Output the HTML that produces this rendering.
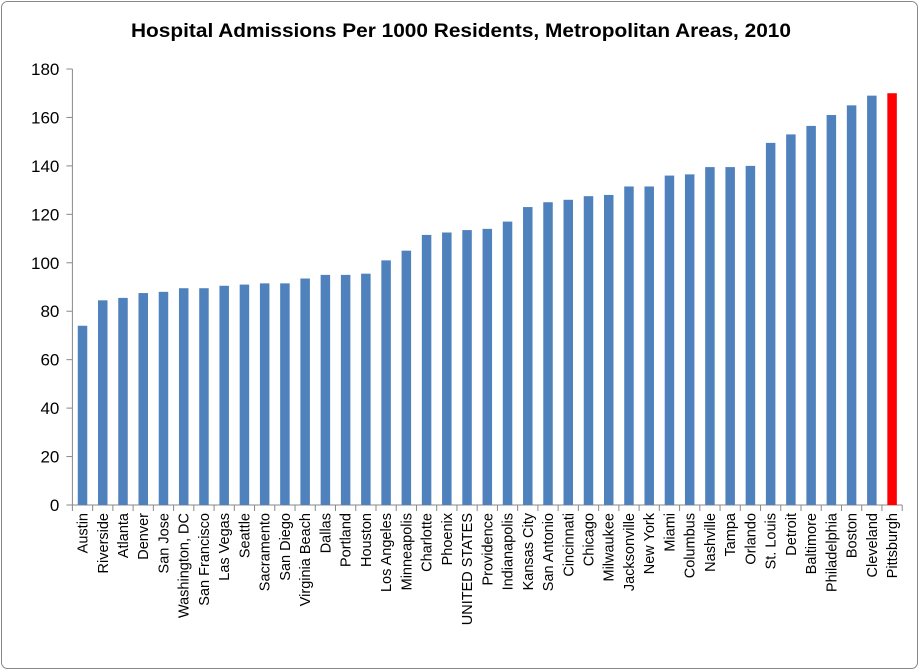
<!DOCTYPE html>
<html><head><meta charset="utf-8"><style>
html,body{margin:0;padding:0;background:#fff;}
svg{display:block;font-family:"Liberation Sans",Arial,sans-serif;}
</style></head><body>
<svg id="chart" width="920" height="671">
<rect x="1.5" y="1.5" width="916" height="667" rx="6" fill="#fff" stroke="#888"/>
<text x="131" y="37" textLength="660" lengthAdjust="spacingAndGlyphs" font-size="19" font-weight="bold">Hospital Admissions Per 1000 Residents, Metropolitan Areas, 2010</text>
<g id="axes"></g><g id="bars"></g><g id="labels"></g>
</svg>
<script>
const categories=["Austin","Riverside","Atlanta","Denver","San Jose","Washington, DC","San Francisco","Las Vegas","Seattle","Sacramento","San Diego","Virginia Beach","Dallas","Portland","Houston","Los Angeles","Minneapolis","Charlotte","Phoenix","UNITED STATES","Providence","Indianapolis","Kansas City","San Antonio","Cincinnati","Chicago","Milwaukee","Jacksonville","New York","Miami","Columbus","Nashville","Tampa","Orlando","St. Louis","Detroit","Baltimore","Philadelphia","Boston","Cleveland","Pittsburgh"];
const values=[74,84.5,85.5,87.5,88,89.5,89.5,90.5,91,91.5,91.5,93.5,95,95,95.5,101,105,111.5,112.5,113.5,114,117,123,125,126,127.5,128,131.5,131.5,136,136.5,139.5,139.5,140,149.5,153,156.5,161,165,169,170];
const highlight=["Pittsburgh"];
const yTicks=[0,20,40,60,80,100,120,140,160,180];
const NS="http://www.w3.org/2000/svg";
const L=72.4,R=902.2,T=69,B=505,YMAX=180;
const step=(R-L)/categories.length;
function y(v){return B-(v/YMAX)*(B-T);}
function x(i){return L+step*(i+0.5);}
function mk(tag,attrs,parent){const e=document.createElementNS(NS,tag);for(const k in attrs)e.setAttribute(k,attrs[k]);parent.appendChild(e);return e;}
const axes=document.getElementById('axes'),bars=document.getElementById('bars'),labels=document.getElementById('labels');
yTicks.forEach(t=>{
  const ln=mk('line',{x1:L-6,x2:L,y1:y(t),y2:y(t),stroke:'#888'},axes);
  
  
  const tx=mk('text',{x:L-13,y:y(t)+6,'text-anchor':'end','font-size':17},axes);
  tx.textContent=t;
  
  
});
const ya=mk('line',{x1:L,x2:L,y1:T,y2:B,stroke:'#888'},axes);


const xa=mk('line',{x1:L,x2:R,y1:B,y2:B,stroke:'#888'},axes);


for(let i=0;i<=categories.length;i++){
  const tk=mk('line',{x1:L+step*i,x2:L+step*i,y1:B,y2:B+6,stroke:'#888'},axes);
  
  
}
categories.forEach((c,i)=>{
  const bw=9.5;
  const r=mk('rect',{x:x(i)-bw/2,y:y(values[i]),width:bw,height:B-y(values[i]),fill:highlight.includes(c)?'#ff0000':'#4f81bd'},bars);
  
  
  const t=mk('text',{transform:`translate(${x(i)+5},513) rotate(-90)`,'text-anchor':'end','font-size':14.5},labels);
  t.textContent=c;
  
  
});
</script>
</body></html>
